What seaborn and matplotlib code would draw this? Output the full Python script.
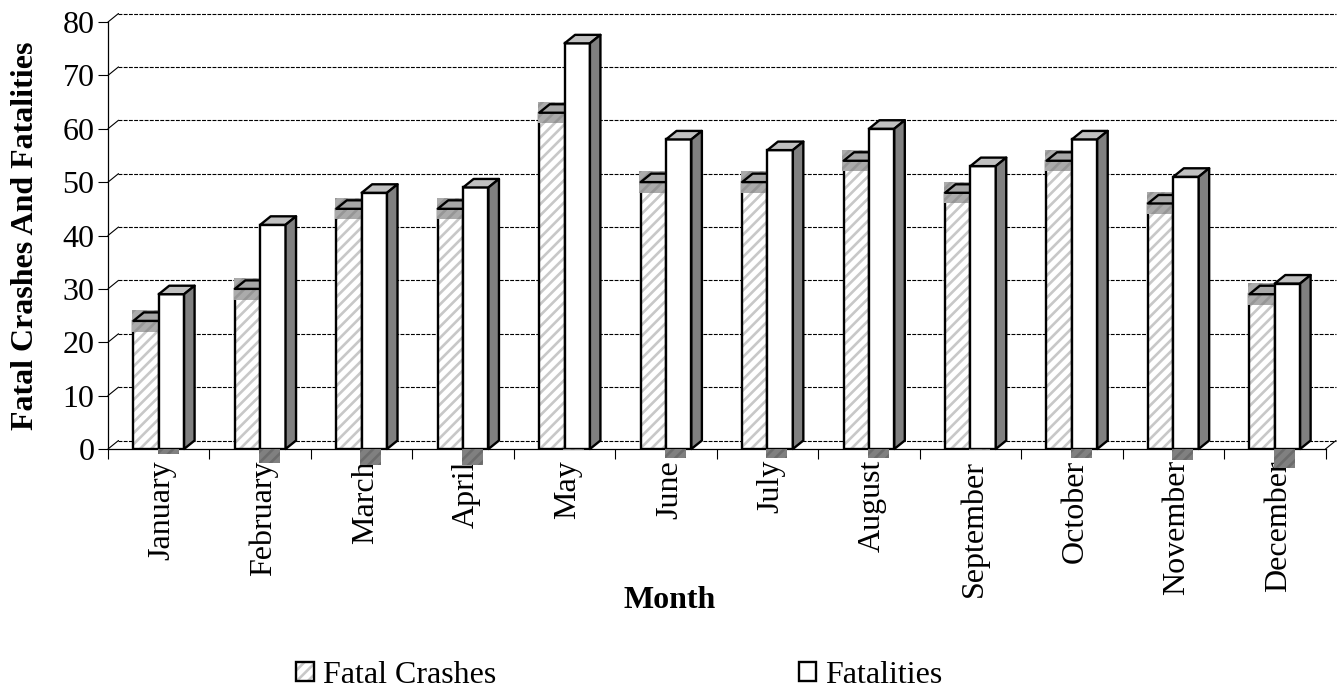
import matplotlib
matplotlib.use("Agg")
import matplotlib.pyplot as plt
import numpy as np
import pandas as pd
import seaborn as sns
from matplotlib.legend_handler import HandlerTuple
from matplotlib.patches import Patch, Polygon, Rectangle
from matplotlib.transforms import ScaledTranslation

months = ["January", "February", "March", "April", "May", "June", "July",
          "August", "September", "October", "November", "December"]
fatal_crashes = [24, 30, 45, 45, 63, 50, 50, 54, 48, 54, 46, 29]
fatalities = [29, 42, 48, 49, 76, 58, 56, 60, 53, 58, 51, 31]
# dark smudges under the axis in y units
smudge_depth = [1.0, 2.7, 3.0, 3.0, 0.2, 1.7, 1.7, 1.7, 0.2, 1.7, 2.1, 3.6]
y_ticks = list(range(0, 90, 10))

FONT_SIZE = 23
DX = 10.5 / 101.46   # 3d depth in x data units
DY = 8.5 / 5.3375    # 3d depth in y data units
LW = 1.7

sns.set_theme(style="white", rc={"hatch.linewidth": 1.9, "text.color": "black",
                                 "axes.labelcolor": "black", "xtick.color": "black",
                                 "ytick.color": "black"})
plt.rcParams["font.family"] = ["Liberation Serif", "DejaVu Serif"]

df = pd.DataFrame({
    "month": months * 2,
    "value": fatal_crashes + fatalities,
    "series": ["Fatal Crashes"] * 12 + ["Fatalities"] * 12,
})

fig = plt.figure(figsize=(13.4, 6.91), dpi=100)
ax = fig.add_axes([108 / 1340, (691 - 449) / 691, 1217.5 / 1340, 427 / 691])

sns.barplot(data=df, x="month", y="value", hue="series", order=months,
            palette={"Fatal Crashes": "white", "Fatalities": "white"},
            width=0.5, gap=0, saturation=1, legend=False, linewidth=0, ax=ax)

ax.set_xlim(-0.5, 11.5)
ax.set_ylim(0, 80)


def add_face(points, color, z):
    ax.add_patch(Polygon(points, closed=True, facecolor=color, edgecolor="black",
                         linewidth=LW, zorder=z, clip_on=False, joinstyle="round"))


# back wall grid lines and their links to the front axis
for t in y_ticks:
    ax.plot([-0.5 + DX, 11.5 + DX], [t + DY, t + DY], color="black", lw=0.8,
            ls=(0, (3.5, 1.2)), zorder=0.5, clip_on=False)
    ax.plot([-0.5, -0.5 + DX], [t, t + DY], color="black", lw=0.8, zorder=0.5, clip_on=False)
ax.plot([11.5, 11.5 + DX], [0, DY], color="black", lw=0.8, zorder=0.5, clip_on=False)

# fatal crashes: hatched front, grey band round the top
for bar, val in zip(ax.containers[0], fatal_crashes):
    x0, w = bar.get_x(), bar.get_width()
    bar.set(facecolor="white", edgecolor="#c8c8c8", hatch="///", linewidth=0, zorder=2)
    ax.add_patch(Rectangle((x0, 0), w, val, fill=False, edgecolor="black", linewidth=LW, zorder=2.1))
    ax.add_patch(Rectangle((x0 - 0.012, val - 2.0), w + 0.012, 4.1, facecolor="#ababab",
                           edgecolor="#969696", hatch="///", linewidth=0, zorder=2.2, clip_on=False))
    add_face([(x0, val), (x0 + DX, val + DY), (x0 + w + DX, val + DY), (x0 + w, val)], "#a6a6a6", 2.3)

# fatalities: white front, light top, dark side
for bar, val, depth in zip(ax.containers[1], fatalities, smudge_depth):
    x0, w = bar.get_x(), bar.get_width()
    bar.set(facecolor="white", edgecolor="black", linewidth=LW, zorder=3)
    add_face([(x0, val), (x0 + DX, val + DY), (x0 + w + DX, val + DY), (x0 + w, val)], "#c0c0c0", 3.1)
    add_face([(x0 + w, 0), (x0 + w + DX, DY), (x0 + w + DX, val + DY), (x0 + w, val)], "#808080", 3.1)
    ax.add_patch(Rectangle((x0 - 0.012, -depth), w * 0.83, depth, facecolor="#808080",
                           edgecolor="#6c6c6c", hatch="///", linewidth=0, zorder=3.2, clip_on=False))

sns.despine(ax=ax)
for side in ("left", "bottom"):
    ax.spines[side].set_linewidth(0.9)
    ax.spines[side].set_color("black")
    ax.spines[side].set_zorder(1.5)

ax.set_yticks(y_ticks)
ax.tick_params(axis="y", left=True, length=7.2, width=0.8, pad=2.5, labelsize=FONT_SIZE)
ax.set_xticks(np.arange(12))
ax.set_xticklabels(months, rotation=90, ha="center", va="top")
ax.set_xticks(np.arange(-0.5, 12), minor=True)
ax.tick_params(axis="x", which="major", bottom=False, length=0, pad=8, labelsize=FONT_SIZE)
ax.tick_params(axis="x", which="minor", bottom=True, length=7.2, width=0.8)
# month labels sit a little right of the category centre
nudge = ScaledTranslation(3.5 / 100, 0, fig.dpi_scale_trans)
for label in ax.get_xticklabels():
    label.set_transform(label.get_transform() + nudge)

ax.set_xlabel("Month", fontsize=FONT_SIZE, fontweight="bold")
ax.xaxis.set_label_coords(0.4616, -0.32)
ax.set_ylabel("Fatal Crashes And Fatalities", fontsize=FONT_SIZE, fontweight="bold")
ax.yaxis.set_label_coords(-0.0557, 0.499)

crash_key = (Patch(facecolor="white", edgecolor="#c8c8c8", hatch="///", linewidth=0),
             Patch(fill=False, edgecolor="black", linewidth=LW))
fatal_key = Patch(facecolor="white", edgecolor="black", linewidth=LW)
ax.legend([crash_key, fatal_key], ["Fatal Crashes", "Fatalities"], ncol=2,
          loc="lower left", bbox_to_anchor=(296 / 1340, 1 / 691), bbox_transform=fig.transFigure,
          frameon=False, fontsize=FONT_SIZE, handlelength=0.56, handleheight=0.56,
          handletextpad=0.28, columnspacing=9.47, borderaxespad=0, borderpad=0,
          handler_map={tuple: HandlerTuple(ndivide=1, pad=0)})

fig.savefig("out.png", dpi=100)
